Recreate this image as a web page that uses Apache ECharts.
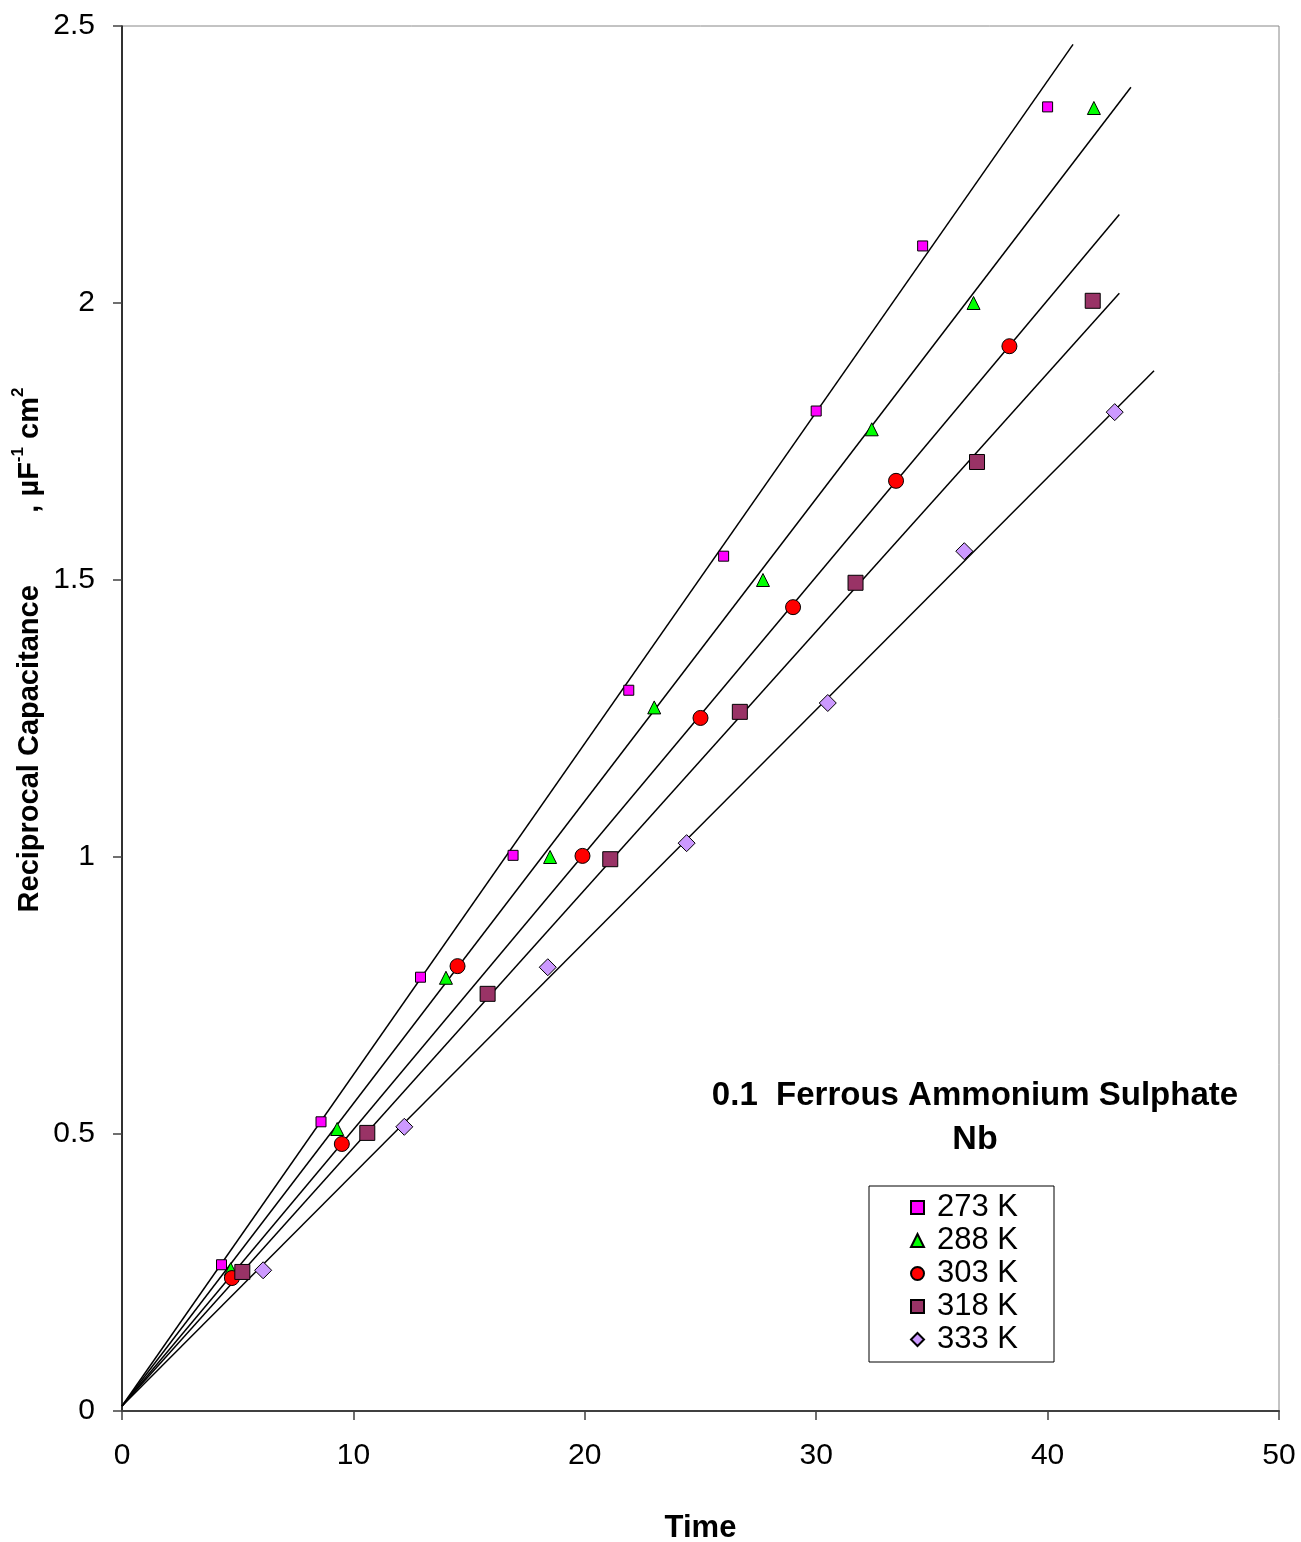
<!DOCTYPE html>
<html lang="en">

<head>
  <meta charset="UTF-8">
  <title>Reciprocal Capacitance vs Time</title>
  <script src="https://cdn.jsdelivr.net/npm/echarts@6/dist/echarts.min.js"></script>
  <style>
    html, body { margin: 0; padding: 0; background: #fff; }
    #chart { width: 1301px; height: 1542px; }
  </style>
</head>

<body>
  <div id="chart"></div>

  <script>
    // axis ticks
    const xTicks = [0, 10, 20, 30, 40, 50]
    const yTicks = [0, 0.5, 1, 1.5, 2, 2.5]

    // legend names
    const temps = ['273 K', '288 K', '303 K', '318 K', '333 K']

    // measured points (time, 1/C)
    const t273 = [4.3, 8.6, 12.9, 16.9, 21.9, 26.0, 30.0, 34.6, 40.0]
    const c273 = [0.264, 0.522, 0.783, 1.003, 1.301, 1.543, 1.805, 2.103, 2.354]
    const t288 = [4.7, 9.3, 14.0, 18.5, 23.0, 27.7, 32.4, 36.8, 42.0]
    const c288 = [0.256, 0.509, 0.782, 1.0, 1.27, 1.5, 1.772, 2.0, 2.352]
    const t303 = [4.75, 9.5, 14.5, 19.9, 25.0, 29.0, 33.45, 38.35]
    const c303 = [0.24, 0.482, 0.803, 1.002, 1.251, 1.451, 1.679, 1.922]
    const t318 = [5.2, 10.6, 15.8, 21.1, 26.7, 31.7, 36.95, 41.95]
    const c318 = [0.251, 0.502, 0.753, 0.996, 1.262, 1.495, 1.713, 2.004]
    const t333 = [6.1, 12.2, 18.4, 24.4, 30.5, 36.4, 42.9]
    const c333 = [0.254, 0.513, 0.801, 1.025, 1.278, 1.552, 1.803]

    // linear fits: y = intercept + slope * t, drawn from t = 0 to fitEnd
    const fitIntercept = 0.009
    const fitSlope = [0.0598, 0.0546, 0.0499, 0.0466, 0.0419]
    const fitEnd = [41.1, 43.6, 43.1, 43.1, 44.6]

    const times = [t273, t288, t303, t318, t333]
    const values = [c273, c288, c303, c318, c333]
    const colors = ['#ff00ff', '#00ff00', '#ff0000', '#993366', '#cc99ff']
    const symbols = ['rect', 'triangle', 'circle', 'rect', 'diamond']
    const sizes = [10, 13, 15, 15, 17]

    const font = 'Arial, "Liberation Sans", sans-serif'

    const series = []
    // fit lines first, under the markers
    fitSlope.forEach(function (k, i) {
      series.push({
        type: 'line',
        name: 'fit' + i,
        data: [[0, fitIntercept], [fitEnd[i], fitIntercept + k * fitEnd[i]]],
        showSymbol: false,
        symbol: 'none',
        lineStyle: { color: '#000', width: 1.5 },
        silent: true,
        z: 1
      })
    })
    temps.forEach(function (name, i) {
      series.push({
        type: 'scatter',
        name: name,
        data: times[i].map(function (t, j) { return [t, values[i][j]] }),
        symbol: symbols[i],
        symbolSize: sizes[i],
        itemStyle: { color: colors[i], borderColor: '#000', borderWidth: 1, opacity: 1 },
        z: 3
      })
    })

    const chart = echarts.init(document.getElementById('chart'))
    chart.setOption({
      backgroundColor: '#fff',
      animation: false,
      grid: {
        left: 122, right: 22, top: 26, bottom: 131,
        outerBoundsMode: 'none',
        show: true, borderColor: '#888', borderWidth: 1
      },
      xAxis: {
        type: 'value',
        min: xTicks[0], max: xTicks[xTicks.length - 1], interval: xTicks[1] - xTicks[0],
        name: 'Time',
        nameLocation: 'middle',
        nameGap: 102,
        nameTextStyle: { fontFamily: font, fontSize: 31, fontWeight: 'bold', color: '#000' },
        axisLine: { onZero: false, lineStyle: { color: '#404040', width: 2 } },
        axisTick: { length: 9, lineStyle: { color: '#404040', width: 1.5 } },
        axisLabel: { margin: 30, fontFamily: font, fontSize: 30, color: '#000' },
        splitLine: { show: false }
      },
      yAxis: {
        type: 'value',
        min: yTicks[0], max: yTicks[yTicks.length - 1], interval: yTicks[1] - yTicks[0],
        axisLine: { show: true, onZero: false, lineStyle: { color: '#000', width: 1.5 } },
        axisTick: { show: true, length: 9, lineStyle: { color: '#404040', width: 1.5 } },
        axisLabel: { margin: 27, fontFamily: font, fontSize: 30, color: '#000' },
        splitLine: { show: false }
      },
      legend: {
        data: temps,
        orient: 'vertical',
        left: 869,
        top: 1186,
        padding: [6, 36, 7, 41],
        itemGap: 2,
        itemWidth: 13,
        itemHeight: 13,
        borderColor: '#000',
        borderWidth: 1,
        backgroundColor: '#fff',
        textStyle: { fontFamily: font, fontSize: 31, color: '#000', padding: [0, 0, 0, 8], lineHeight: 29 }
      },
      graphic: [
        {
          type: 'text',
          x: 975, y: 1096,
          style: {
            text: '0.1  Ferrous Ammonium Sulphate',
            font: 'bold 33px ' + font,
            fill: '#000',
            align: 'center',
            verticalAlign: 'middle'
          }
        },
        {
          type: 'text',
          x: 975, y: 1140,
          style: {
            text: 'Nb',
            font: 'bold 34px ' + font,
            fill: '#000',
            align: 'center',
            verticalAlign: 'middle'
          }
        },
        {
          type: 'text',
          x: 27, y: 650,
          rotation: Math.PI / 2,
          style: {
            text: '{b|Reciprocal Capacitance         , µF}{s|-1}{b| cm}{s|2}',
            align: 'center',
            verticalAlign: 'middle',
            fill: '#000',
            rich: {
              b: { fontFamily: font, fontSize: 29, fontWeight: 'bold', lineHeight: 34, verticalAlign: 'bottom' },
              s: { fontFamily: font, fontSize: 17, fontWeight: 'bold', lineHeight: 34, verticalAlign: 'top' }
            }
          }
        }
      ],
      series: series
    })
  </script>
</body>

</html>
